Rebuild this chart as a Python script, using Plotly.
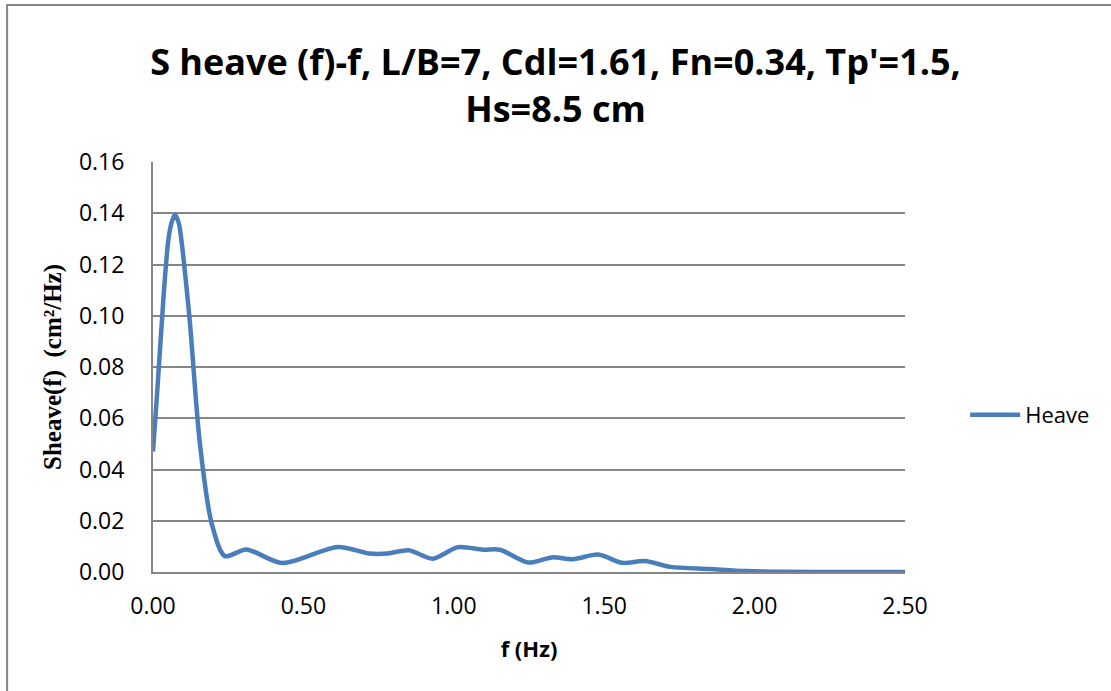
import plotly.graph_objects as go

freq_hz = [0.0, 0.0144, 0.0366, 0.051, 0.061, 0.073, 0.086, 0.097, 0.108, 0.123, 0.156, 0.195, 0.239, 0.31, 0.43,
           0.615, 0.72, 0.78, 0.85, 0.93, 1.014, 1.097, 1.153, 1.247, 1.326, 1.396,
           1.48, 1.56, 1.635, 1.72, 1.85, 1.97, 2.1, 2.3, 2.5]
sheave = [0.047, 0.071, 0.110, 0.1296, 0.136, 0.1395, 0.136, 0.127, 0.115, 0.097, 0.050, 0.019, 0.0062, 0.0088, 0.0035,
          0.0098, 0.0072, 0.0072, 0.0085, 0.0052, 0.0097, 0.0087, 0.0087, 0.0037, 0.0057, 0.0050,
          0.0068, 0.0036, 0.0043, 0.0020, 0.0012, 0.0004, 0.0001, 0.0, 0.0]

x_ticks = [0.0, 0.5, 1.0, 1.5, 2.0, 2.5]
y_ticks = [0.00, 0.02, 0.04, 0.06, 0.08, 0.10, 0.12, 0.14, 0.16]

title_text = "S heave (f)-f, L/B=7, Cdl=1.61, Fn=0.34, Tp'=1.5,<br>Hs=8.5 cm"
x_title = "f (Hz)"
y_title = "Sheave(f)  (cm²/Hz)"
series_name = "Heave"

FONT = "Open Sans, Lato, sans-serif"
GRID = "#868686"

fig = go.Figure()
fig.add_trace(go.Scatter(
    x=freq_hz, y=sheave, mode="lines", name=series_name,
    line=dict(color="#4A7EBB", width=4.5, shape="spline", smoothing=0.8),
))

fig.update_layout(
    width=1111, height=691,
    margin=dict(l=153, r=206, t=162, b=119),
    paper_bgcolor="white", plot_bgcolor="white",
    font=dict(family=FONT, size=23, color="black"),
    title=dict(text="<b>" + title_text + "</b>", x=0.5, xanchor="center",
               y=0.891, yanchor="middle",
               font=dict(family=FONT, size=36, color="black")),
    showlegend=True,
    legend=dict(x=1.08, y=0.383, xanchor="left", yanchor="middle", itemwidth=50,
                font=dict(family=FONT, size=22), bgcolor="rgba(0,0,0,0)"),
    xaxis=dict(range=[0, 2.5], tickvals=x_ticks, tickformat=".2f",
               showgrid=False, showline=True, linecolor=GRID, linewidth=2,
               zeroline=False, ticks="", ticklabelstandoff=12,
               title=dict(text="<b>" + x_title + "</b>", standoff=22,
                          font=dict(family=FONT, size=22))),
    yaxis=dict(range=[0, 0.16], tickvals=y_ticks, tickformat=".2f",
               showgrid=True, gridcolor=GRID, gridwidth=1.5,
               showline=True, linecolor=GRID, linewidth=2,
               zeroline=False, ticks="", ticklabelstandoff=22,
               title=dict(text="<b>" + y_title + "</b>", standoff=10,
                          font=dict(family="Liberation Serif, Times New Roman, serif", size=25))),
)

# chart-area border (top and left visible)
fig.add_shape(type="rect", xref="paper", yref="paper",
              x0=-0.194, x1=1.40, y0=-0.40, y1=1.383,
              line=dict(color="#868686", width=2), fillcolor="rgba(0,0,0,0)", layer="below")

fig.write_html("out.html")
